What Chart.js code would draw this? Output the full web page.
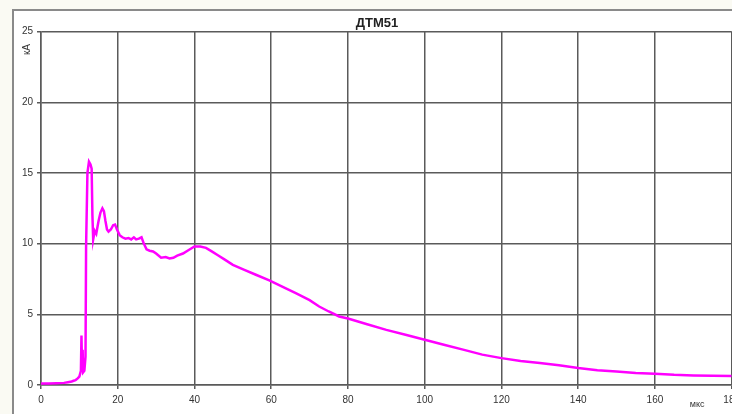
<!DOCTYPE html>
<html>
<head>
<meta charset="utf-8">
<script src="https://cdn.jsdelivr.net/npm/chart.js@4"></script>
<style>
  html, body { margin: 0; padding: 0; overflow: hidden; background: #fafaf3; }
  #chart { display: block; }
</style>
</head>
<body>
<canvas id="chart" width="745" height="414"></canvas>
<script>
// время, мкс
const timeUs = [0, 2, 4, 6, 7, 8, 8.5, 9, 9.5, 10, 10.4, 10.55, 10.7, 10.85, 11.0, 11.3, 11.6, 11.75,
  12.1, 12.5, 12.9, 13.2, 13.4, 13.6, 14.0, 14.4, 15.0, 15.5, 16.0, 16.4, 16.8, 17.2, 17.6, 18.2,
  18.8, 19.3, 19.8, 20.5, 21.2, 22, 22.8, 23.5, 24.2, 24.8, 25.5, 26.2, 26.8, 27.5, 28.3, 29.2,
  30, 31.3, 32.5, 33.5, 34.5, 35.5, 37, 38.5, 40, 41.5, 43, 44.5, 46, 48, 50, 53, 56, 59.5, 63,
  66.4, 70, 72.5, 75, 77.7, 80, 85, 90, 95, 100, 105, 110, 115, 120, 125, 130, 135, 140, 145,
  150, 155, 160, 165, 170, 175, 180];
// ток, кА
const currentKA = [0.1, 0.1, 0.12, 0.15, 0.2, 0.25, 0.3, 0.35, 0.45, 0.6, 1.0, 3.5, 1.0, 2.5, 0.9, 1.0, 2.0, 9.8,
  15.0, 15.8, 15.6, 15.3, 12.0, 10.3, 10.9, 10.7, 11.6, 12.2, 12.5, 12.3, 11.6, 11.0, 10.85, 11.0,
  11.3, 11.35, 11.0, 10.6, 10.45, 10.35, 10.4, 10.3, 10.45, 10.3, 10.35, 10.45, 10.0, 9.6, 9.5, 9.45,
  9.3, 9.0, 9.05, 8.95, 9.0, 9.15, 9.3, 9.55, 9.8, 9.8, 9.7, 9.45, 9.2, 8.85, 8.5, 8.15, 7.8, 7.4, 6.95,
  6.5, 6.0, 5.55, 5.2, 4.85, 4.7, 4.3, 3.9, 3.55, 3.2, 2.85, 2.5, 2.15, 1.9, 1.7, 1.55, 1.4, 1.2, 1.05,
  0.95, 0.85, 0.8, 0.72, 0.68, 0.65, 0.64];

const xTicks = [0, 20, 40, 60, 80, 100, 120, 140, 160, 180];
const yTicks = [0, 5, 10, 15, 20, 25];

const points = timeUs.map((t, i) => ({ x: t, y: currentKA[i] }));

const fontFamily = '"Liberation Sans", Arial, sans-serif';

const frame = {
  id: 'frame',
  beforeDraw(chart) {
    const ctx = chart.ctx;
    ctx.save();
    ctx.fillStyle = '#fafaf3';
    ctx.fillRect(0, 0, chart.width, chart.height);
    ctx.fillStyle = '#ffffff';
    ctx.fillRect(13, 10, chart.width, chart.height);
    ctx.strokeStyle = '#8a8a8a';
    ctx.lineWidth = 2;
    ctx.beginPath();
    ctx.moveTo(13, chart.height);
    ctx.lineTo(13, 10);
    ctx.lineTo(chart.width, 10);
    ctx.stroke();
    ctx.restore();
  },
  afterDraw(chart) {
    const ctx = chart.ctx;
    const area = chart.chartArea;
    ctx.save();
    ctx.fillStyle = '#333';
    ctx.font = '9px ' + fontFamily;
    ctx.textAlign = 'center';
    ctx.textBaseline = 'middle';
    ctx.fillText('мкс', chart.scales.x.getPixelForValue(171), 405);
    ctx.translate(area.left - 14, area.top + 18);
    ctx.rotate(-Math.PI / 2);
    ctx.font = '10px ' + fontFamily;
    ctx.fillText('кА', 0, 0);
    ctx.restore();
  }
};

new Chart(document.getElementById('chart'), {
  type: 'line',
  data: {
    datasets: [{
      data: points,
      borderColor: '#ff00ff',
      borderWidth: 2.5,
      pointRadius: 0,
      tension: 0,
      fill: false
    }]
  },
  options: {
    responsive: false,
    devicePixelRatio: 1,
    animation: false,
    layout: { padding: { left: 20, right: 11, top: 0, bottom: 9 } },
    plugins: {
      legend: { display: false },
      tooltip: { enabled: false },
      title: {
        display: true,
        text: 'ДТМ51',
        color: '#222',
        font: { family: fontFamily, size: 13, weight: 'bold', lineHeight: 1.2 },
        padding: { top: 16, bottom: 0 }
      }
    },
    scales: {
      x: {
        type: 'linear',
        min: 0,
        max: 180,
        afterFit(scale) { scale.height = 20; },
        afterBuildTicks(scale) { scale.ticks = xTicks.map(v => ({ value: v })); },
        grid: { color: '#5a5a5a', lineWidth: 1.5, tickLength: 4 },
        border: { color: '#5a5a5a', width: 1.5 },
        ticks: {
          maxRotation: 0,
          padding: 5,
          color: '#333',
          font: { family: fontFamily, size: 10 }
        }
      },
      y: {
        min: 0,
        max: 25,
        afterFit(scale) { scale.width = 21; },
        afterBuildTicks(scale) { scale.ticks = yTicks.map(v => ({ value: v })); },
        grid: { color: '#5a5a5a', lineWidth: 1.5, tickLength: 4 },
        border: { color: '#5a5a5a', width: 1.5 },
        ticks: {
          padding: 4,
          color: '#333',
          font: { family: fontFamily, size: 10 }
        }
      }
    }
  },
  plugins: [frame]
});
</script>
</body>
</html>
